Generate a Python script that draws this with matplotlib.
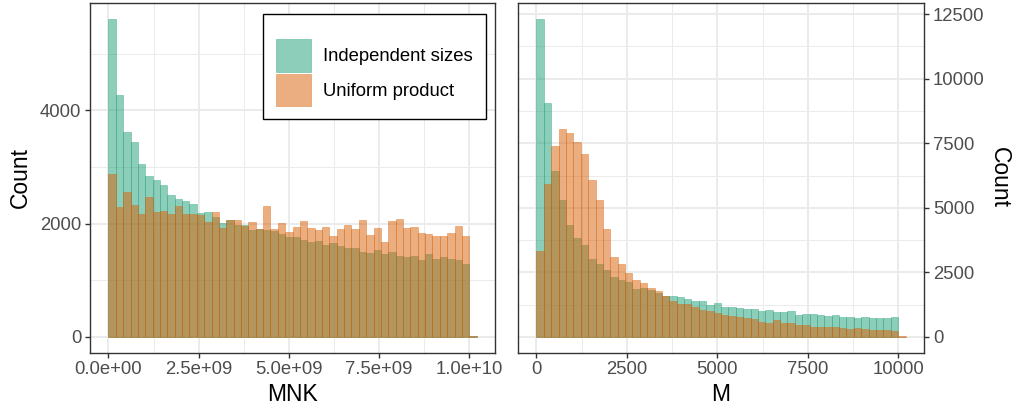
import numpy as np
import matplotlib
matplotlib.use("Agg")
import matplotlib.pyplot as plt
from matplotlib.patches import Patch
from matplotlib.ticker import FuncFormatter, MultipleLocator

plt.rcParams['font.family'] = ['Liberation Sans', 'DejaVu Sans']

# ---- data (counts per bin, 50 bins each) ----
series_names = ["Independent sizes", "Uniform product"]

mnk_max = 1e10
mnk_independent = [5613, 4270, 3617, 3440, 3052, 2840, 2769, 2680, 2504, 2433,
                   2398, 2345, 2186, 2203, 2115, 2009, 2062, 1973, 1973, 1885,
                   1903, 1885, 1868, 1815, 1762, 1762, 1708, 1673, 1690, 1620,
                   1655, 1602, 1567, 1567, 1496, 1479, 1532, 1461, 1496, 1426,
                   1408, 1426, 1355, 1461, 1373, 1408, 1373, 1355, 1284, 10]
mnk_uniform = [2869, 2292, 2557, 2327, 2168, 2468, 2203, 2221, 2168, 2309,
               2168, 2168, 2150, 2027, 2203, 1920, 2062, 2062, 1956, 2027,
               1903, 2309, 1903, 2009, 1850, 1938, 2044, 1920, 1885, 1938,
               1779, 1903, 1973, 1903, 2062, 1797, 1920, 1673, 2044, 2080,
               1920, 1938, 1832, 1815, 1779, 1779, 1832, 1956, 1779, 20]

m_max = 10000
m_independent = [12319, 9062, 6425, 5300, 4331, 3827, 3556, 3013, 2819, 2586,
                 2315, 2199, 2121, 1850, 1888, 1811, 1694, 1579, 1579, 1540,
                 1462, 1385, 1385, 1229, 1307, 1152, 1152, 1113, 1074, 1074,
                 997, 1036, 958, 958, 997, 842, 881, 881, 842, 803,
                 842, 764, 764, 725, 764, 725, 725, 725, 764, 10]
m_uniform = [3323, 5921, 7394, 8054, 7899, 7550, 7085, 6077, 5300, 4176,
             3091, 2819, 2470, 2199, 2082, 1888, 1772, 1579, 1385, 1268,
             1268, 1152, 1036, 997, 919, 842, 803, 764, 725, 686,
             570, 531, 648, 531, 531, 454, 454, 376, 376, 376,
             376, 337, 298, 337, 298, 260, 260, 260, 221, 25]

mnk_ticks = [0, 2.5e9, 5e9, 7.5e9, 1e10]
m_ticks = [0, 2500, 5000, 7500, 10000]
left_yticks = [0, 2000, 4000]
right_yticks = [0, 2500, 5000, 7500, 10000, 12500]

colors = ["#1b9e77", "#d95f02"]
ALPHA = 0.5

W, H = 1015, 409
fig = plt.figure(figsize=(W / 100, H / 100), dpi=100)

def frac(x0, y0, x1, y1):
    return [x0 / W, 1 - y1 / H, (x1 - x0) / W, (y1 - y0) / H]

axL = fig.add_axes(frac(90, 3, 495, 352.7))
axR = fig.add_axes(frac(518, 3, 924, 352.7))

TICK_FS = 13.3
TITLE_FS = 16.5
GRID = "#ebebeb"
BORDER = "#333333"

def draw(ax, counts_list, vmax, xticks, yticks, xminor, yminor):
    nb = len(counts_list[0])
    bw = vmax / (nb - 1)
    edges = np.arange(nb) * bw
    for counts, c in zip(counts_list, colors):
        ax.bar(edges, counts, width=bw, align='edge', color=c, alpha=ALPHA,
               edgecolor=c, linewidth=0.5, zorder=3)
    xr = nb * bw
    ax.set_xlim(-0.05 * xr, xr * 1.05)
    ymax = max(max(c) for c in counts_list)
    ax.set_ylim(-0.05 * ymax, ymax * 1.05)
    ax.set_xticks(xticks)
    ax.set_yticks(yticks)
    ax.xaxis.set_minor_locator(MultipleLocator(xminor))
    ax.yaxis.set_minor_locator(MultipleLocator(yminor))
    ax.grid(which='major', color=GRID, linewidth=1.4, zorder=0)
    ax.grid(which='minor', color=GRID, linewidth=0.7, zorder=0)
    ax.set_axisbelow(True)
    ax.tick_params(which='minor', length=0)
    ax.tick_params(which='major', length=3.8, width=1.0, color=BORDER,
                   labelsize=TICK_FS, labelcolor="#4d4d4d", pad=2.5)
    for s in ax.spines.values():
        s.set_color(BORDER)
        s.set_linewidth(1.0)
        s.set_zorder(5)

draw(axL, [mnk_independent, mnk_uniform], mnk_max, mnk_ticks, left_yticks, 1.25e9, 1000)
draw(axR, [m_independent, m_uniform], m_max, m_ticks, right_yticks, 1250, 1250)

axL.xaxis.set_major_formatter(FuncFormatter(lambda v, p: f"{v:.1e}"))
axL.set_xlabel("MNK", fontsize=TITLE_FS, labelpad=3)
axL.set_ylabel("Count", fontsize=TITLE_FS, labelpad=6)
axR.set_xlabel("M", fontsize=TITLE_FS, labelpad=3)
axR.yaxis.tick_right()
axR.yaxis.set_label_position("right")
axR.set_ylabel("Count", fontsize=TITLE_FS, rotation=-90, labelpad=19)

handles = [Patch(facecolor=c, edgecolor=c, alpha=ALPHA, linewidth=0.5) for c in colors]
leg = axL.legend(handles, series_names, loc='upper right', bbox_to_anchor=(0.978, 0.968),
                 fontsize=TICK_FS, frameon=True, fancybox=False, framealpha=1,
                 edgecolor="black", handlelength=1.9, handleheight=2.35,
                 labelspacing=0.1, handletextpad=0.65, borderpad=0.7,
                 borderaxespad=0.0, title=" ", title_fontsize=8)
leg.get_frame().set_linewidth(1.0)
leg.set_zorder(10)

fig.savefig("out.png", dpi=100)
